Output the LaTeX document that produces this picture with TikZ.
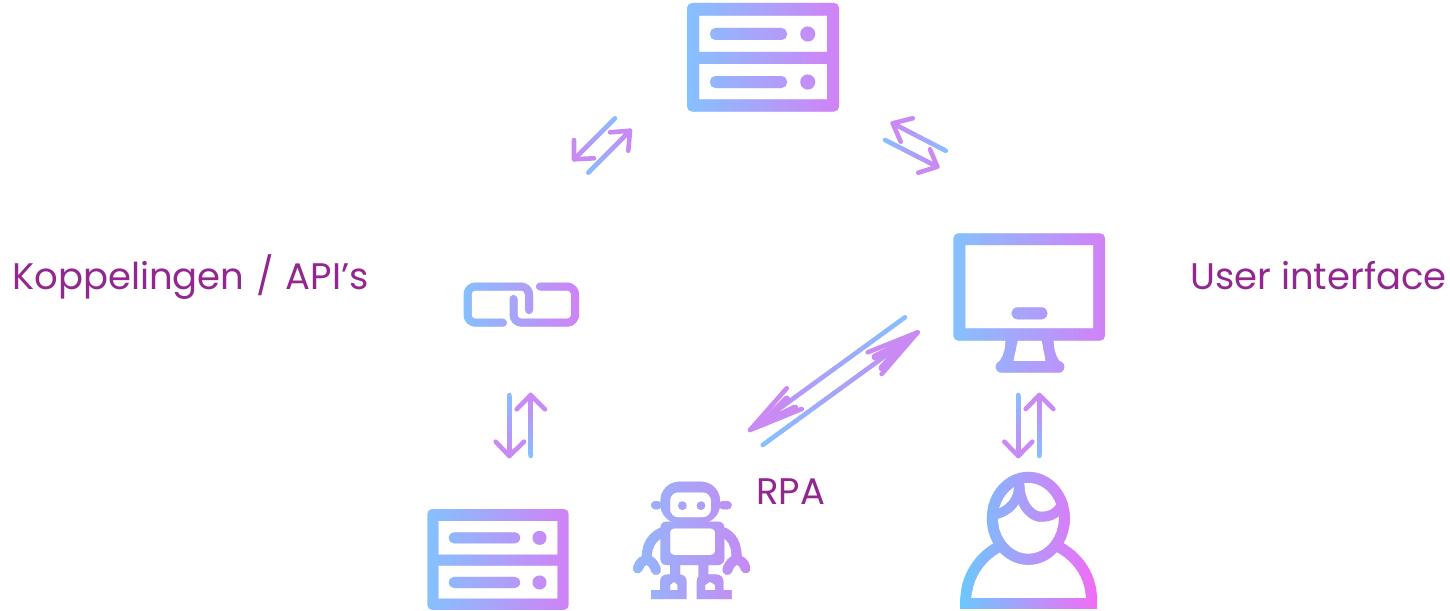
\documentclass[tikz,border=0pt]{standalone}
\usepackage{fontspec}
\setmainfont{Poppins}
\usetikzlibrary{calc}
\definecolor{gradA}{HTML}{85C1FF}
\definecolor{gradB}{HTML}{D182F6}
\definecolor{roboA}{HTML}{92B8FC}
\definecolor{roboB}{HTML}{C68AF2}
\definecolor{persA}{HTML}{6AC9FF}
\definecolor{persB}{HTML}{F26CF6}
\definecolor{headC}{HTML}{C98AF4}
\definecolor{labelC}{HTML}{92278F}
\tikzset{
  label text/.style={text=labelC,font=\fontsize{37}{42}\selectfont,anchor=base west,inner sep=0pt},
  head stroke/.style={draw=headC,line cap=round,line join=round},
}
% horizontal gradient: the drawing is repeated in narrow vertical strips
\newcommand\gradicon[7]{%
  \pgfmathtruncatemacro\nn{ceil((#2-#1)/2)}%
  \foreach \ii in {1,...,\nn}{%
    \pgfmathsetmacro\xa{#1+(\ii-1)*(#2-#1)/\nn}%
    \pgfmathsetmacro\xb{#1+\ii*(#2-#1)/\nn+1}%
    \pgfmathsetmacro\pp{100*(\ii-.5)/\nn}%
    \colorlet{gcol}{#4!\pp!#3}%
    \begin{scope}\clip (\xa,#5) rectangle (\xb,#6); #7\end{scope}%
  }}
% arrow with gradient shaft: tail, tip, barb, barb, width
\newcommand\gradarrow[5]{%
  \coordinate (t) at (#1); \coordinate (h) at (#2);
  \foreach \ii in {1,...,24}{%
    \pgfmathsetmacro\fa{(\ii-1)/24}%
    \pgfmathsetmacro\fb{\ii/24}%
    \pgfmathsetmacro\pp{100*\ii/24}%
    \colorlet{segc}{headC!\pp!gradA}%
    \draw[segc,line width=#5,line cap=round] ($(t)!\fa!(h)$) -- ($(t)!\fb!(h)$);
  }
  \draw[head stroke,line width=#5] (#3) -- (h) -- (#4);
}
\newcommand\serverbody{%
  \fill[gcol,even odd rule,rounded corners=5] (0,0) rectangle (152,108.5)
    [sharp corners] (12,12.7) rectangle (140,49) (12,61) rectangle (140,96.3);
  \fill[gcol,rounded corners=5.5] (23,25) rectangle (100,37);
  \fill[gcol,rounded corners=5.5] (23,73) rectangle (100,85);
  \fill[gcol] (120.7,31) circle [radius=7.5] (120.7,79) circle [radius=7.5];
}
\begin{document}
\begin{tikzpicture}[x=1pt,y=-1pt]
\useasboundingbox (0,0) rectangle (1450,610);

% top server
\coordinate (topserver) at (687,3);
\gradicon{687}{839}{gradA}{gradB}{0}{115}{\begin{scope}[shift={(topserver)}]\serverbody\end{scope}}

% bottom server
\coordinate (botserver) at (427.3,509);
\gradicon{427.3}{568.7}{gradA}{gradB}{505}{610}{\begin{scope}[shift={(botserver)},scale=.93]\serverbody\end{scope}}

% monitor
\gradicon{953.3}{1105}{gradA}{gradB}{230}{376}{%
  \fill[gcol,even odd rule,rounded corners=5] (953.3,233.3) rectangle (1105,340.7)
    [sharp corners] (965.3,245) rectangle (1093.3,328.3);
  \fill[gcol,rounded corners=5.8] (1011.7,307.3) rectangle (1047.3,319.3);
  \fill[gcol,even odd rule] (1005.7,340) .. controls (1005,351) and (1003,358) .. (997,364)
    -- (1062,364) .. controls (1056,358) and (1054,351) .. (1053.3,340) -- cycle
    (1017.7,340) -- (1041.7,340) -- (1045.7,361) -- (1013.3,361) -- cycle;
  \fill[gcol,even odd rule,rounded corners=5.8] (995.7,361) rectangle (1064.3,372.7);
}

% link
\gradicon{463}{579.5}{gradA}{gradB}{278}{330}{%
  \draw[gcol,line width=8,line cap=round,line join=round,rounded corners=8]
    (503,322.7) -- (467.5,322.7) -- (467.5,286.5) -- (529,286.5) -- (529,310);
  \draw[gcol,line width=8,line cap=round,line join=round,rounded corners=8]
    (513.5,299) -- (513.5,322.7) -- (575,322.7) -- (575,286.5) -- (540,286.5);
}

% robot
\gradicon{633}{749}{roboA}{roboB}{478}{600}{%
  \begin{scope}[shift={(625,475)},scale=.33333]
    \fill[gcol,even odd rule,rounded corners=19] (106,20) rectangle (285,145)
      [rounded corners=8] (135,52) rectangle (258,127);
    \fill[gcol,rounded corners=4] (78,78) rectangle (110,103);
    \fill[gcol,rounded corners=4] (281,78) rectangle (320,103);
    \fill[gcol] (172,92) circle [radius=13] (228,92) circle [radius=13];
    \fill[gcol,even odd rule,rounded corners=6] (106,140) rectangle (298,270)
      [rounded corners=4] (135,160) rectangle (270,240);
    \draw[gcol,line width=10,line cap=round] (110,172) .. controls (85,185) and (65,205) .. (65,250);
    \draw[gcol,line width=10,line cap=round] (296,172) .. controls (320,185) and (335,205) .. (335,250);
    \draw[gcol,line width=10,line cap=round] (38,280) .. controls (45,262) and (55,255) .. (65,255) .. controls (75,255) and (87,265) .. (93,285);
    \draw[gcol,line width=10,line cap=round] (307,285) .. controls (313,265) and (325,255) .. (335,255) .. controls (345,255) and (357,262) .. (362,280);
    \fill[gcol] (135,265) rectangle (165,305) (220,265) rectangle (250,305);
    \fill[gcol,even odd rule] (105,372) -- (105,320) .. controls (105,305) and (115,298) .. (130,298)
      -- (160,298) .. controls (175,298) and (185,305) .. (185,320) -- (185,372) -- cycle
      (135,345) -- (135,330) -- (147,320) -- (158,330) -- (158,345) -- cycle;
    \fill[gcol,even odd rule] (215,372) -- (215,320) .. controls (215,305) and (225,298) .. (240,298)
      -- (270,298) .. controls (285,298) and (295,305) .. (295,320) -- (295,372) -- cycle
      (240,345) -- (240,330) -- (255,320) -- (270,330) -- (270,345) -- cycle;
    \fill[gcol] (78,345) rectangle (110,372) (290,345) rectangle (320,372);
  \end{scope}
}

% person
\gradicon{960}{1097}{persA}{persB}{465}{610}{%
  \begin{scope}[shift={(955,465)},scale=.33333]
    \draw[gcol,line width=11] (220,160) ellipse [x radius=108,y radius=123];
    \draw[gcol,line width=9.5,line cap=round] (192,50) .. controls (195,105) and (165,140) .. (115,150);
    \draw[gcol,line width=10,line cap=round] (193,60) .. controls (195,130) and (240,160) .. (262,155) .. controls (290,155) and (310,140) .. (322,118);
    \draw[gcol,line width=11,line cap=butt] (140,240) .. controls (70,275) and (32,340) .. (32,410);
    \draw[gcol,line width=11,line cap=butt] (300,240) .. controls (375,275) and (410,340) .. (410,410);
    \fill[gcol] (15,400) rectangle (425,432);
  \end{scope}
}

% arrows
\gradarrow{615,118.3}{574,159.3}{574,140}{594,158.3}{4.6}
\gradarrow{588.3,172.7}{630,130.7}{610,132.3}{628.3,150.7}{4.6}
\gradarrow{945.7,150.7}{892.7,123.3}{912.7,118.3}{900.7,141.7}{4.6}
\gradarrow{885,140}{937.3,166.7}{930,149.3}{918.3,172.7}{4.6}
\gradarrow{905,317.3}{750,430}{786.7,388.3}{801.7,409}{4.6}
\gradarrow{762.7,445}{917.7,332.3}{867.7,352.3}{881.7,374}{4.6}
\draw[head stroke,line width=7] (762,424) -- (786.7,399) (764,423) -- (795,408);
\draw[head stroke,line width=7] (905,342) -- (875,357) (904,344) -- (882,368);
\gradarrow{1018.3,395}{1018.3,456}{1004.3,441.7}{1032.3,441.7}{4.6}
\gradarrow{1039.3,456}{1039.3,395}{1025.7,409}{1053.3,409}{4.6}
\gradarrow{509.3,395}{509.3,456}{495.7,441.7}{524,441.7}{4.6}
\gradarrow{530.7,456}{530.7,395}{516.7,409.3}{545,409.3}{4.6}

% labels
\node[label text] (koppel) at (12,289) {Koppelingen \kern2pt/ \kern2pt API’s};
\node[label text] (ui) at (1190,289) {User interface};
\node[label text] (rpa) at (756,504) {RPA};
\end{tikzpicture}
\end{document}
